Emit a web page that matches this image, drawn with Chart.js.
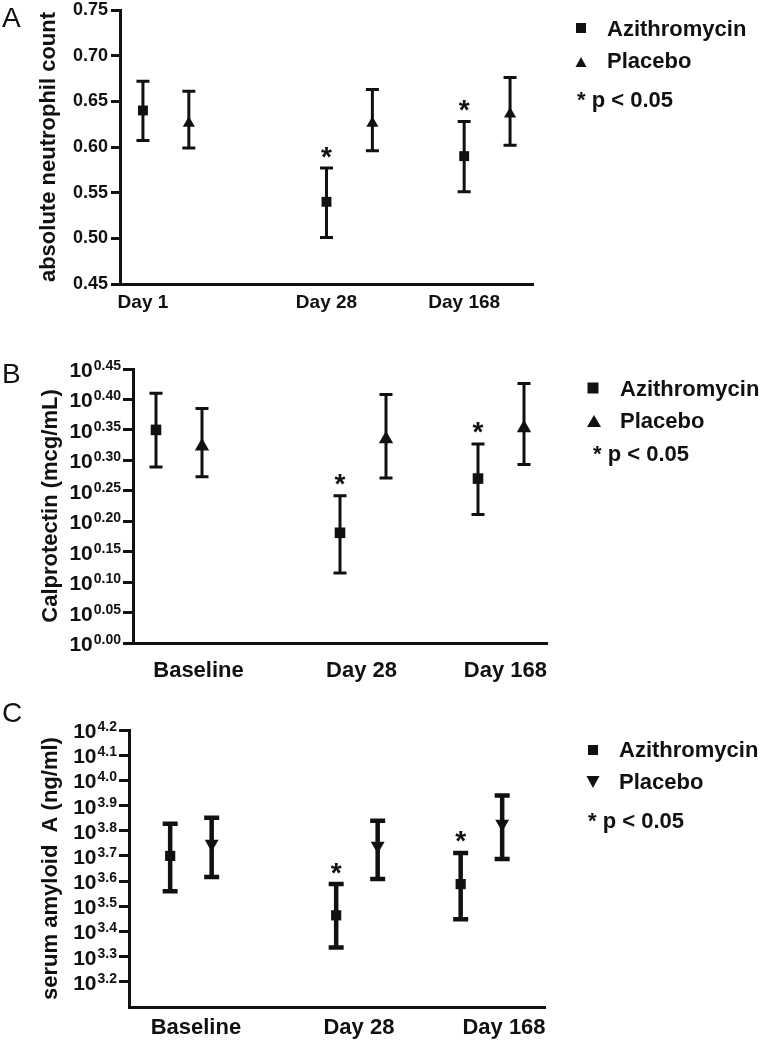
<!DOCTYPE html>
<html>
<head>
<meta charset="utf-8">
<script src="https://cdn.jsdelivr.net/npm/chart.js@4.4.1/dist/chart.umd.min.js"></script>
<style>
  body { margin: 0; background: #fff; width: 762px; height: 1046px; overflow: hidden; position: relative; }
  canvas { position: absolute; left: 0; }
</style>
</head>
<body>
<canvas id="chartA" width="762" height="340" style="top:-10px"></canvas>
<canvas id="chartB" width="762" height="360" style="top:330px"></canvas>
<canvas id="chartC" width="762" height="356" style="top:690px"></canvas>
<script>
const FONT = 'Arial, "Liberation Sans", Helvetica, sans-serif'
const INK = '#111'

// timepoint groups on the x axis; azithromycin left of centre, placebo right
const groupPos = [0, 1, 1.75]
const pairOffset = 0.125

// A - absolute neutrophil count
const daysA = ['Day 1', 'Day 28', 'Day 168']
const labelPosA = [-0.125, 0.875, 1.625]
const ticksA = [0.45, 0.50, 0.55, 0.60, 0.65, 0.70, 0.75]
const ancAzi = [0.640, 0.540, 0.590]
const ancAziLo = [0.607, 0.501, 0.551]
const ancAziHi = [0.672, 0.577, 0.628]
const ancPla = [0.626, 0.626, 0.636]
const ancPlaLo = [0.599, 0.596, 0.602]
const ancPlaHi = [0.661, 0.663, 0.676]

// B - calprotectin, log10 exponent
const daysB = ['Baseline', 'Day 28', 'Day 168']
const labelPosB = [0.106, 0.992, 1.774]
const ticksB = [0.00, 0.05, 0.10, 0.15, 0.20, 0.25, 0.30, 0.35, 0.40, 0.45]
const calAzi = [0.350, 0.181, 0.270]
const calAziLo = [0.289, 0.115, 0.211]
const calAziHi = [0.410, 0.242, 0.327]
const calPla = [0.323, 0.335, 0.353]
const calPlaLo = [0.273, 0.271, 0.293]
const calPlaHi = [0.385, 0.408, 0.426]

// C - serum amyloid A, log10 exponent
const daysC = ['Baseline', 'Day 28', 'Day 168']
const labelPosC = [0.03, 1.012, 1.886]
const ticksC = [3.2, 3.3, 3.4, 3.5, 3.6, 3.7, 3.8, 3.9, 4.0, 4.1, 4.2]
const saaAzi = [3.700, 3.464, 3.588]
const saaAziLo = [3.560, 3.336, 3.448]
const saaAziHi = [3.828, 3.588, 3.712]
const saaPla = [3.748, 3.740, 3.828]
const saaPlaLo = [3.616, 3.608, 3.688]
const saaPlaHi = [3.852, 3.840, 3.940]

// azithromycin differs from placebo at p < 0.05
const sigAzi = [false, true, true]

function marker(ctx, style, cx, cy, w, h) {
  ctx.beginPath()
  if (style === 'rect') {
    ctx.rect(cx - w / 2, cy - h / 2, w, h)
  } else if (style === 'up') {
    ctx.moveTo(cx, cy - h / 2)
    ctx.lineTo(cx + w / 2, cy + h / 2)
    ctx.lineTo(cx - w / 2, cy + h / 2)
  } else {
    ctx.moveTo(cx, cy + h / 2)
    ctx.lineTo(cx + w / 2, cy - h / 2)
    ctx.lineTo(cx - w / 2, cy - h / 2)
  }
  ctx.closePath()
  ctx.fill()
}

const panelExtras = {
  id: 'panelExtras',
  beforeDatasetsDraw(chart, args, o) {
    const ctx = chart.ctx
    const xs = chart.scales.x
    const ys = chart.scales.y
    ctx.save()
    ctx.strokeStyle = INK
    ctx.fillStyle = INK
    ctx.lineWidth = o.barWidth
    chart.data.datasets.forEach(ds => {
      ds.data.forEach((p, i) => {
        const px = xs.getPixelForValue(p.x)
        const top = ys.getPixelForValue(ds.errHi[i])
        const bot = ys.getPixelForValue(ds.errLo[i])
        ctx.beginPath()
        ctx.moveTo(px, top); ctx.lineTo(px, bot)
        ctx.moveTo(px - o.cap, top); ctx.lineTo(px + o.cap, top)
        ctx.moveTo(px - o.cap, bot); ctx.lineTo(px + o.cap, bot)
        ctx.stroke()
        if (ds.sig && ds.sig[i]) {
          ctx.font = 'bold 28px ' + FONT
          ctx.textAlign = 'center'
          ctx.textBaseline = 'alphabetic'
          const m = ctx.measureText('*')
          const base = top - 16 - (m.actualBoundingBoxDescent - m.actualBoundingBoxAscent) / 2
          ctx.fillText('*', px, base)
        }
      })
    })
    ctx.restore()
  },
  afterDraw(chart, args, o) {
    const ctx = chart.ctx
    const dy = -o.offsetTop
    ctx.save()
    ctx.fillStyle = INK
    ctx.textAlign = 'left'
    ctx.textBaseline = 'alphabetic'

    // panel letter
    ctx.font = '28px ' + FONT
    ctx.fillText(o.letter, 2, o.letterBase + dy)

    // legend
    ctx.font = 'bold 22px ' + FONT
    o.legend.forEach(row => {
      if (row.marker) marker(ctx, row.marker, row.mx, row.my + dy, row.mw, row.mh)
      ctx.fillText(row.text, row.tx, row.base + dy)
    })

    // 10^x tick labels
    if (o.expDigits) {
      const ys = chart.scales.y
      ys.ticks.forEach(t => {
        const ty = ys.getPixelForValue(t.value)
        const right = ys.right - 12
        const sup = t.value.toFixed(o.expDigits)
        ctx.textAlign = 'right'
        ctx.font = 'bold 14px ' + FONT
        ctx.fillText(sup, right, ty + 1)
        const w = ctx.measureText(sup).width
        ctx.font = 'bold 21px ' + FONT
        ctx.fillText('10', right - w - 1, ty + 8)
      })
    }
    ctx.restore()
  }
}

function series(label, style, radius, rotation, ys, lo, hi, offset, sig) {
  return {
    label: label,
    data: groupPos.map((g, i) => ({ x: g + offset, y: ys[i] })),
    pointStyle: style,
    pointRadius: radius,
    pointRotation: rotation,
    pointBackgroundColor: INK,
    pointBorderWidth: 0,
    showLine: false,
    errLo: lo,
    errHi: hi,
    sig: sig
  }
}

function makeChart(id, p) {
  return new Chart(document.getElementById(id), {
    type: 'scatter',
    data: { datasets: p.datasets },
    plugins: [panelExtras],
    options: {
      responsive: false,
      animation: false,
      events: [],
      layout: { padding: { top: p.padTop, right: p.padRight, left: 0, bottom: 0 } },
      plugins: {
        legend: { display: false },
        tooltip: { enabled: false },
        panelExtras: p.extras
      },
      scales: {
        x: {
          type: 'linear',
          min: p.xMin,
          max: p.xMax,
          afterBuildTicks: s => { s.ticks = p.labelPos.map(v => ({ value: v })) },
          afterFit: s => { s.height = p.xHeight },
          ticks: {
            callback: (v, i) => p.days[i],
            autoSkip: false,
            maxRotation: 0,
            padding: p.xPad,
            color: INK,
            font: { family: FONT, size: p.xFont, weight: 'bold' }
          },
          grid: { display: false, drawTicks: false },
          border: { display: true, color: INK, width: 3 }
        },
        y: {
          min: p.yMin,
          max: p.yMax,
          afterBuildTicks: s => { s.ticks = p.yTicks.map(v => ({ value: v })) },
          afterFit: s => { s.width = p.yWidth },
          ticks: {
            display: !p.extras.expDigits,
            callback: v => v.toFixed(2),
            padding: 3,
            color: INK,
            font: { family: FONT, size: 18, weight: 'bold' }
          },
          grid: { drawOnChartArea: false, drawTicks: true, tickLength: p.tickLen, color: INK, lineWidth: 3 },
          border: { display: true, color: INK, width: 3 },
          title: {
            display: true,
            text: p.title,
            color: INK,
            padding: { top: p.titlePad, bottom: 0 },
            font: { family: FONT, size: 22, weight: 'bold' }
          }
        }
      }
    }
  })
}

makeChart('chartA', {
  datasets: [
    series('Azithromycin', 'rect', 7, 0, ancAzi, ancAziLo, ancAziHi, -pairOffset, sigAzi),
    series('Placebo', 'triangle', 7, 0, ancPla, ancPlaLo, ancPlaHi, pairOffset, null)
  ],
  padTop: 20, padRight: 229, xHeight: 46, xPad: 7, xFont: 19,
  xMin: -0.25, xMax: 2.0, days: daysA, labelPos: labelPosA,
  yMin: 0.45, yMax: 0.75, yTicks: ticksA, yWidth: 120, tickLen: 9,
  title: 'absolute neutrophil count', titlePad: 36,
  extras: {
    offsetTop: -10, barWidth: 3, cap: 6.5, letter: 'A', letterBase: 27,
    legend: [
      { marker: 'rect', mx: 581, my: 28, mw: 10, mh: 10, text: 'Azithromycin', tx: 607, base: 36 },
      { marker: 'up', mx: 581, my: 62, mw: 11, mh: 10, text: 'Placebo', tx: 607, base: 68 },
      { text: '* p < 0.05', tx: 577, base: 107 }
    ]
  }
})

makeChart('chartB', {
  datasets: [
    series('Azithromycin', 'rect', 7.5, 0, calAzi, calAziLo, calAziHi, -pairOffset, sigAzi),
    series('Placebo', 'triangle', 8.3, 0, calPla, calPlaLo, calPlaHi, pairOffset, null)
  ],
  padTop: 39, padRight: 215, xHeight: 47, xPad: 15, xFont: 22,
  xMin: -0.25, xMax: 2.0, days: daysB, labelPos: labelPosB,
  yMin: 0, yMax: 0.45, yTicks: ticksB, yWidth: 133, tickLen: 10,
  title: 'Calprotectin (mcg/mL)', titlePad: 38,
  extras: {
    offsetTop: 330, barWidth: 3, cap: 6.5, letter: 'B', letterBase: 383, expDigits: 2,
    legend: [
      { marker: 'rect', mx: 593, my: 388, mw: 11, mh: 11, text: 'Azithromycin', tx: 620, base: 396 },
      { marker: 'up', mx: 594, my: 421, mw: 14, mh: 12, text: 'Placebo', tx: 620, base: 428 },
      { text: '* p < 0.05', tx: 593, base: 461 }
    ]
  }
})

makeChart('chartC', {
  datasets: [
    series('Azithromycin', 'rect', 7.2, 0, saaAzi, saaAziLo, saaAziHi, -pairOffset, sigAzi),
    series('Placebo', 'triangle', 8, 180, saaPla, saaPlaLo, saaPlaHi, pairOffset, null)
  ],
  padTop: 40, padRight: 217, xHeight: 39, xPad: 8, xFont: 22,
  xMin: -0.373, xMax: 2.133, days: daysC, labelPos: labelPosC,
  yMin: 3.1, yMax: 4.2, yTicks: ticksC, yWidth: 129, tickLen: 10,
  title: 'serum amyloid  A (ng/ml)', titlePad: 38,
  extras: {
    offsetTop: 690, barWidth: 4.5, cap: 7.5, letter: 'C', letterBase: 722, expDigits: 1,
    legend: [
      { marker: 'rect', mx: 593, my: 750, mw: 10, mh: 10, text: 'Azithromycin', tx: 619, base: 757 },
      { marker: 'down', mx: 593, my: 782, mw: 13, mh: 12, text: 'Placebo', tx: 619, base: 789 },
      { text: '* p < 0.05', tx: 588, base: 828 }
    ]
  }
})
</script>
</body>
</html>
